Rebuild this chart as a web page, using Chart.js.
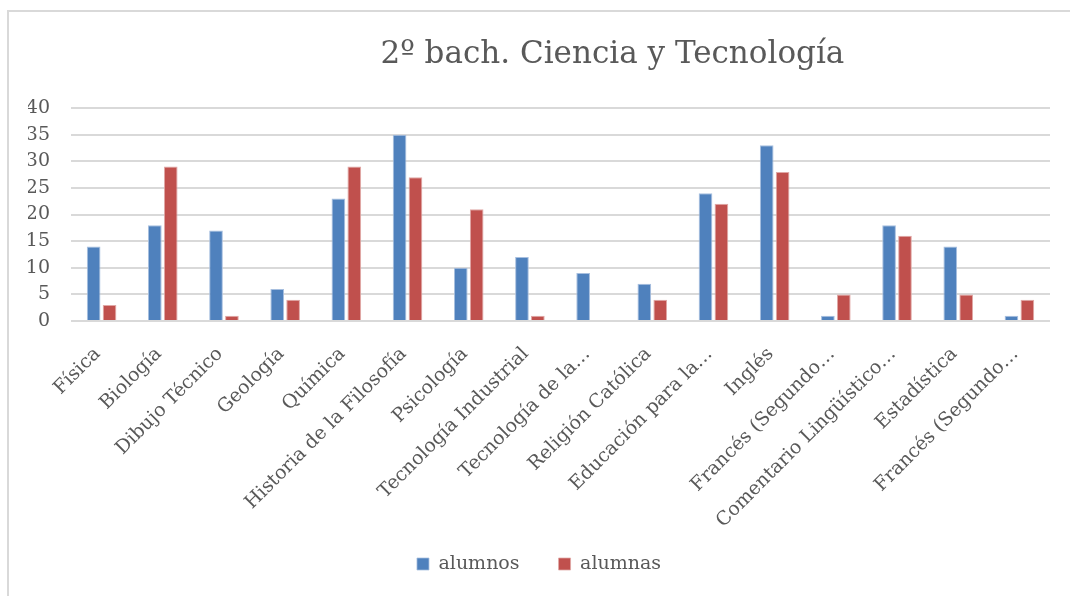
<!DOCTYPE html>
<html>
<head>
<meta charset="utf-8">
<script src="https://cdn.jsdelivr.net/npm/chart.js@4.4.0/dist/chart.umd.min.js"></script>
<style>
  html, body { margin: 0; padding: 0; background: #fff; overflow: hidden; }
  #wrap { position: relative; width: 1070px; height: 596px; overflow: hidden; }
  #frame { position: absolute; left: 7px; top: 10px; width: 1100px; height: 640px;
           border-left: 2px solid #d9d9d9; border-top: 2px solid #d9d9d9; }
  #chart { position: absolute; left: 0; top: 0; }
</style>
</head>
<body>
<div id="wrap">
  <div id="frame"></div>
  <canvas id="chart" width="1070" height="596"></canvas>
</div>
<script>
// data
const chart_title = '2º bach. Ciencia y Tecnología';
const subjects = [
    'Física', 'Biología', 'Dibujo Técnico', 'Geología', 'Química',
    'Historia de la Filosofía', 'Psicología', 'Tecnología Industrial',
    'Tecnología de la…', 'Religión Católica', 'Educación para la…', 'Inglés',
    'Francés (Segundo…', 'Comentario Lingüístico…', 'Estadística', 'Francés (Segundo…'
];
const alumnos = [14, 18, 17, 6, 23, 35, 10, 12, 9, 7, 24, 33, 1, 18, 14, 1];
const alumnas = [3, 29, 1, 4, 29, 27, 21, 1, 0, 4, 22, 28, 5, 16, 5, 4];
const y_ticks = [0, 5, 10, 15, 20, 25, 30, 35, 40];

const text_color = '#595959';
const grid_color = '#d9d9d9';
const font_family = '"DejaVu Serif", "Liberation Serif", serif';

// title drawn over the plot, Excel puts it a bit right of centre
const titlePlugin = {
    id: 'excelTitle',
    afterDraw(chart){
        const ctx = chart.ctx;
        const area = chart.chartArea;
        ctx.save();
        ctx.font = '31px ' + font_family;
        ctx.fillStyle = text_color;
        ctx.textAlign = 'center';
        ctx.textBaseline = 'alphabetic';
        ctx.fillText(chart_title, area.left + area.width * 0.553, 63);
        ctx.restore();
    }
};

const data = {
    labels: subjects,
    datasets: [{
        label: 'alumnos',
        data: alumnos,
        backgroundColor: '#4f81bd',
        borderColor: '#a7bfdf',
        borderWidth: {top: 1, left: 1, right: 1, bottom: 0},
        categoryPercentage: 0.52,
        barPercentage: 0.86
    }, {
        label: 'alumnas',
        data: alumnas,
        backgroundColor: '#c0504d',
        borderColor: '#e0a8a6',
        borderWidth: {top: 1, left: 1, right: 1, bottom: 0},
        categoryPercentage: 0.52,
        barPercentage: 0.86
    }]
};

const config = {
    type: 'bar',
    data: data,
    plugins: [titlePlugin],
    options: {
        responsive: false,
        animation: false,
        // left padding pushes the legend a bit right, y axis width makes up for it
        layout: { padding: { top: 108, right: 20, bottom: 12.5, left: 28 } },
        plugins: {
            title: { display: false },
            tooltip: { enabled: false },
            legend: {
                position: 'bottom',
                labels: {
                    color: text_color,
                    font: { family: font_family, size: 19 },
                    boxWidth: 12,
                    boxHeight: 12,
                    padding: 39,
                    useBorderRadius: false
                }
            }
        },
        scales: {
            x: {
                grid: { display: false, drawTicks: false },
                border: { display: false },
                ticks: {
                    color: text_color,
                    font: { family: font_family, size: 19 },
                    maxRotation: 45,
                    minRotation: 45,
                    autoSkip: false,
                    padding: 22,
                    labelOffset: -4
                },
                afterFit(scale){
                    scale.height = 194.5;
                    // long labels run into the legend band, don't clip them
                    scale._computeLabelArea = () => undefined;
                }
            },
            y: {
                min: 0,
                max: 40,
                afterBuildTicks(scale){
                    scale.ticks = y_ticks.map(v => ({ value: v }));
                },
                grid: { color: grid_color, lineWidth: 2, drawTicks: false },
                border: { display: false },
                ticks: {
                    color: text_color,
                    font: { family: font_family, size: 19 },
                    autoSkip: false,
                    padding: 21
                },
                afterFit(scale){ scale.width = 43; }
            }
        }
    }
};

window.onload = function() {
    const canvas = document.getElementById('chart');
    new Chart(canvas, config);
}
</script>
</body>
</html>
